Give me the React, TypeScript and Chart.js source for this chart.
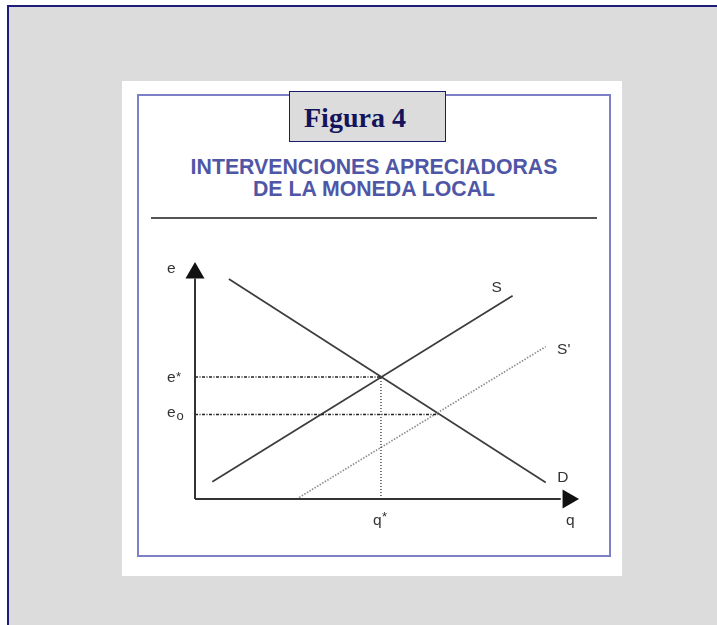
import React, { useEffect, useRef } from "react";
import { Chart, registerables } from "chart.js";

Chart.register(...registerables);

// ---- data (abstract units: q on x 0..100, e on y 0..100) ----
const demandQ = [8.8, 91.1];
const demandE = [92.8, 7.0];
const supplyQ = [4.5, 82.5];
const supplyE = [7.3, 85.8];
const supply2Q = [26.4, 91.1];
const supply2E = [0, 64.3];
const eStar = 51.5;
const qStar = 48.3;
const eZero = 35.7;
const qZero = 63.1;
const axisEndQ = 95;
const axisEndE = 93;
const arrowQ = 96.9;
const arrowE = 95.4;

const titleLines = ["INTERVENCIONES APRECIADORAS", "DE LA MONEDA LOCAL"];
const figureLabel = "Figura 4";

const pts = (xs: number[], ys: number[]) => xs.map((x, i) => ({ x, y: ys[i] }));

const ink = "#333";

const labelPlugin = {
  id: "labels",
  afterDatasetsDraw(chart: any) {
    const { ctx, scales } = chart;
    const xs = scales.x;
    const ys = scales.y;
    const px = (v: number) => xs.getPixelForValue(v);
    const py = (v: number) => ys.getPixelForValue(v);
    ctx.save();
    ctx.fillStyle = ink;
    ctx.textBaseline = "alphabetic";
    const font = "15.5px 'Liberation Sans', Arial, sans-serif";
    const star = "13px 'Liberation Sans', Arial, sans-serif";
    ctx.font = font;
    ctx.textAlign = "left";
    const ax = px(0);
    // e axis label
    ctx.fillText("e", ax - 28, py(arrowE) + 0);
    // e*
    ctx.fillText("e", ax - 28, py(eStar) + 5);
    ctx.font = star;
    ctx.fillText("*", ax - 19, py(eStar) + 4);
    // e0
    ctx.font = font;
    ctx.fillText("e", ax - 28, py(eZero) + 3);
    ctx.font = "13px 'Liberation Sans', Arial, sans-serif";
    ctx.fillText("o", ax - 18.5, py(eZero) + 6);
    // q*
    ctx.font = font;
    const by = py(0) + 26;
    ctx.fillText("q", px(qStar) - 8, by);
    ctx.font = star;
    ctx.fillText("*", px(qStar) + 1, by - 4);
    // q axis label
    ctx.font = font;
    ctx.fillText("q", px(arrowQ) - 2, by);
    // curve labels
    ctx.textAlign = "center";
    ctx.textBaseline = "middle";
    ctx.fillText("S", px(supplyQ[1]) - 16, py(supplyE[1]) - 8);
    ctx.fillText("S'", px(supply2Q[1]) + 18, py(supply2E[1]) + 3);
    ctx.fillText("D", px(demandQ[1]) + 17, py(demandE[1]) - 5);
    ctx.restore();
  },
};

export default function App() {
  const ref = useRef<HTMLCanvasElement | null>(null);

  useEffect(() => {
    if (!ref.current) return;
    const chart = new Chart(ref.current, {
      type: "scatter",
      data: {
        datasets: [
          {
            label: "eje e",
            data: [{ x: 0, y: 0 }, { x: 0, y: axisEndE }],
            showLine: true,
            borderColor: "#333",
            borderWidth: 2,
            pointRadius: 0,
            clip: false,
          } as any,
          {
            label: "eje q",
            data: [{ x: 0, y: 0 }, { x: axisEndQ, y: 0 }],
            showLine: true,
            borderColor: "#333",
            borderWidth: 2,
            pointRadius: 0,
            clip: false,
          } as any,
          {
            label: "flecha e",
            data: [{ x: 0, y: arrowE }],
            pointStyle: "triangle",
            pointRadius: 11,
            rotation: 0,
            backgroundColor: "#111",
            borderColor: "#111",
            borderWidth: 0,
            clip: false,
          } as any,
          {
            label: "flecha q",
            data: [{ x: arrowQ, y: 0 }],
            pointStyle: "triangle",
            pointRadius: 11,
            rotation: 90,
            backgroundColor: "#111",
            borderColor: "#111",
            borderWidth: 0,
            clip: false,
          } as any,
          {
            label: "e*",
            data: [{ x: 0, y: eStar }, { x: qStar, y: eStar }],
            showLine: true,
            borderColor: "#222",
            borderWidth: 1.5,
            borderDash: [3, 1.5, 1, 1.5],
            pointRadius: 0,
          } as any,
          {
            label: "e0",
            data: [{ x: 0, y: eZero }, { x: qZero, y: eZero }],
            showLine: true,
            borderColor: "#222",
            borderWidth: 1.5,
            borderDash: [3, 1.5, 1, 1.5],
            pointRadius: 0,
          } as any,
          {
            label: "q*",
            data: [{ x: qStar, y: 0 }, { x: qStar, y: eStar }],
            showLine: true,
            borderColor: "#333",
            borderWidth: 1.3,
            borderDash: [1, 2],
            pointRadius: 0,
          } as any,
          {
            label: "S'",
            data: pts(supply2Q, supply2E),
            showLine: true,
            borderColor: "#8e8e8e",
            borderWidth: 1.7,
            borderDash: [1.5, 1.5],
            pointRadius: 0,
          } as any,
          {
            label: "D",
            data: pts(demandQ, demandE),
            showLine: true,
            borderColor: "#3c3c3c",
            borderWidth: 1.7,
            pointRadius: 0,
          } as any,
          {
            label: "S",
            data: pts(supplyQ, supplyE),
            showLine: true,
            borderColor: "#3c3c3c",
            borderWidth: 1.7,
            pointRadius: 0,
          } as any,
        ],
      },
      options: {
        animation: false,
        responsive: false,
        events: [],
        layout: { padding: { left: 55, right: 28, top: 32, bottom: 51 } },
        plugins: {
          legend: { display: false },
          tooltip: { enabled: false },
          title: { display: false },
        },
        scales: {
          x: { type: "linear", min: 0, max: 100, display: false },
          y: { type: "linear", min: 0, max: 100, display: false },
        },
      },
      plugins: [labelPlugin],
    });
    return () => chart.destroy();
  }, []);

  return (
    <div style={{ position: "absolute", left: 0, top: 0, width: 717, height: 625, overflow: "hidden" }}>
      <div
        style={{
          position: "absolute",
          left: 7,
          top: 5,
          width: 740,
          height: 660,
          border: "2px solid #1c1c7c",
          background: "#dcdcdc",
        }}
      />
      <div style={{ position: "absolute", left: 122, top: 81, width: 500, height: 495, background: "#fff" }} />
      <div
        style={{
          position: "absolute",
          left: 137,
          top: 94,
          width: 474,
          height: 463,
          boxSizing: "border-box",
          border: "2px solid #7c80c6",
        }}
      />
      <div
        style={{
          position: "absolute",
          left: 289,
          top: 91,
          width: 157,
          height: 51,
          boxSizing: "border-box",
          border: "1.5px solid #1c1c6c",
          background: "#dcdcdc",
          fontFamily: "'Liberation Serif', 'Times New Roman', serif",
          fontWeight: "bold",
          fontSize: 28,
          color: "#14145c",
          lineHeight: "51px",
          paddingLeft: 14,
          whiteSpace: "nowrap",
        }}
      >
        {figureLabel}
      </div>
      <div
        style={{
          position: "absolute",
          left: 137,
          top: 156,
          width: 474,
          textAlign: "center",
          fontFamily: "'Liberation Sans', Arial, sans-serif",
          fontWeight: "bold",
          fontSize: 21.3,
          lineHeight: "22px",
          color: "#5056a6",
        }}
      >
        {titleLines.map((t, i) => (
          <div key={i}>{t}</div>
        ))}
      </div>
      <div style={{ position: "absolute", left: 151, top: 217, width: 446, height: 2, background: "#555" }} />
      <canvas
        ref={ref}
        width={468}
        height={320}
        style={{ position: "absolute", left: 140, top: 230, width: 468, height: 320 }}
      />
    </div>
  );
}
